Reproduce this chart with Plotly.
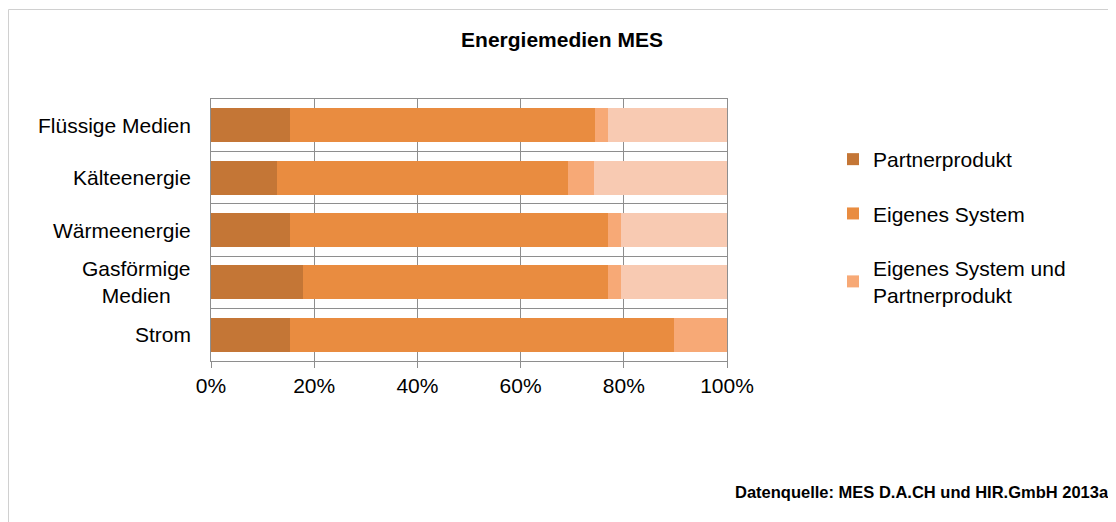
import plotly.graph_objects as go

categories = ["Flüssige Medien", "Kälteenergie", "Wärmeenergie", "Gasförmige<br>Medien", "Strom"]
partnerprodukt = [15.4, 12.8, 15.4, 17.9, 15.4]
eigenes_system = [59.0, 56.4, 61.5, 59.0, 74.4]
eigenes_und_partner = [2.6, 5.1, 2.6, 2.6, 10.3]
rest = [23.1, 25.7, 20.5, 20.5, 0.0]
x_ticks = [0, 20, 40, 60, 80, 100]
x_tick_labels = ["0%", "20%", "40%", "60%", "80%", "100%"]

series = [
    ("Partnerprodukt", partnerprodukt, "#C47636", True),
    ("Eigenes System", eigenes_system, "#E98C40", True),
    ("Eigenes System und<br>Partnerprodukt", eigenes_und_partner, "#F7A976", True),
    ("Keine Angabe", rest, "#F8CAB2", False),
]

FONT = "Liberation Sans, Arial, sans-serif"
GRID = "#8E8E8E"

# page body has an 8px margin: figure is offset by 8px on screen
OFF = 8
W, H = 1116 - OFF, 522 - OFF
L = 211 - OFF
R = W - (727 - OFF)
T = 99 - OFF
B = H - (361 - OFF)
pw, ph = W - L - R, H - T - B


def px(xs):
    return (xs - OFF - L) / pw


def py(ys):
    return 1 - (ys - OFF - T) / ph


fig = go.Figure()
for i, (name, vals, color, show) in enumerate(series):
    fig.add_trace(go.Bar(
        y=categories, x=vals, name=name, orientation="h",
        marker=dict(color=color, line=dict(width=0)),
        showlegend=show, legendgroup=f"g{i}", hoverinfo="x+name",
    ))

fig.update_layout(
    width=W, height=H,
    barmode="stack", bargap=0.35,
    margin=dict(l=L, r=R, t=T, b=B, pad=0),
    paper_bgcolor="white", plot_bgcolor="white",
    font=dict(family=FONT, size=21, color="#000000"),
    title=dict(text="<b>Energiemedien MES</b>", x=0.5, xanchor="center",
               y=1 - (40 - OFF) / H, yanchor="middle",
               font=dict(family=FONT, size=21, color="#000000")),
    legend=dict(x=px(833), y=py(139), xanchor="left", yanchor="top",
                traceorder="grouped", tracegroupgap=24,
                font=dict(family=FONT, size=21, color="#000000"),
                itemwidth=30, bgcolor="rgba(0,0,0,0)"),
    xaxis=dict(range=[0, 100], tickvals=x_ticks, ticktext=x_tick_labels,
               showgrid=True, gridcolor=GRID, gridwidth=1,
               zeroline=False, showline=True, linecolor=GRID, mirror=True,
               ticks="outside", ticklen=6, tickcolor=GRID,
               tickfont=dict(family=FONT, size=21, color="#000000"), fixedrange=True),
    yaxis=dict(autorange="reversed", tickson="boundaries", showgrid=True,
               gridcolor=GRID, gridwidth=1, showline=True, linecolor=GRID,
               mirror=True, showticklabels=False, ticks="", fixedrange=True),
    showlegend=True,
)

for c in categories:
    fig.add_annotation(x=px(193), xref="paper", y=c, yref="y", text=c,
                       showarrow=False, xanchor="right", yanchor="middle", align="center",
                       font=dict(family=FONT, size=21, color="#000000"))

fig.add_annotation(x=px(1111), xref="paper", y=py(492), yref="paper",
                   text="<b>Datenquelle: MES D.A.CH und HIR.GmbH 2013a</b>", showarrow=False,
                   xanchor="right", yanchor="middle",
                   font=dict(family=FONT, size=16.5, color="#000000"))

# chart frame
fig.add_shape(type="rect", xref="paper", yref="paper",
              x0=px(8.5), x1=px(1130),
              y0=py(540), y1=py(9.5),
              line=dict(color="#D0D0D0", width=1), fillcolor="rgba(0,0,0,0)", layer="below")

fig.write_html("out.html")
